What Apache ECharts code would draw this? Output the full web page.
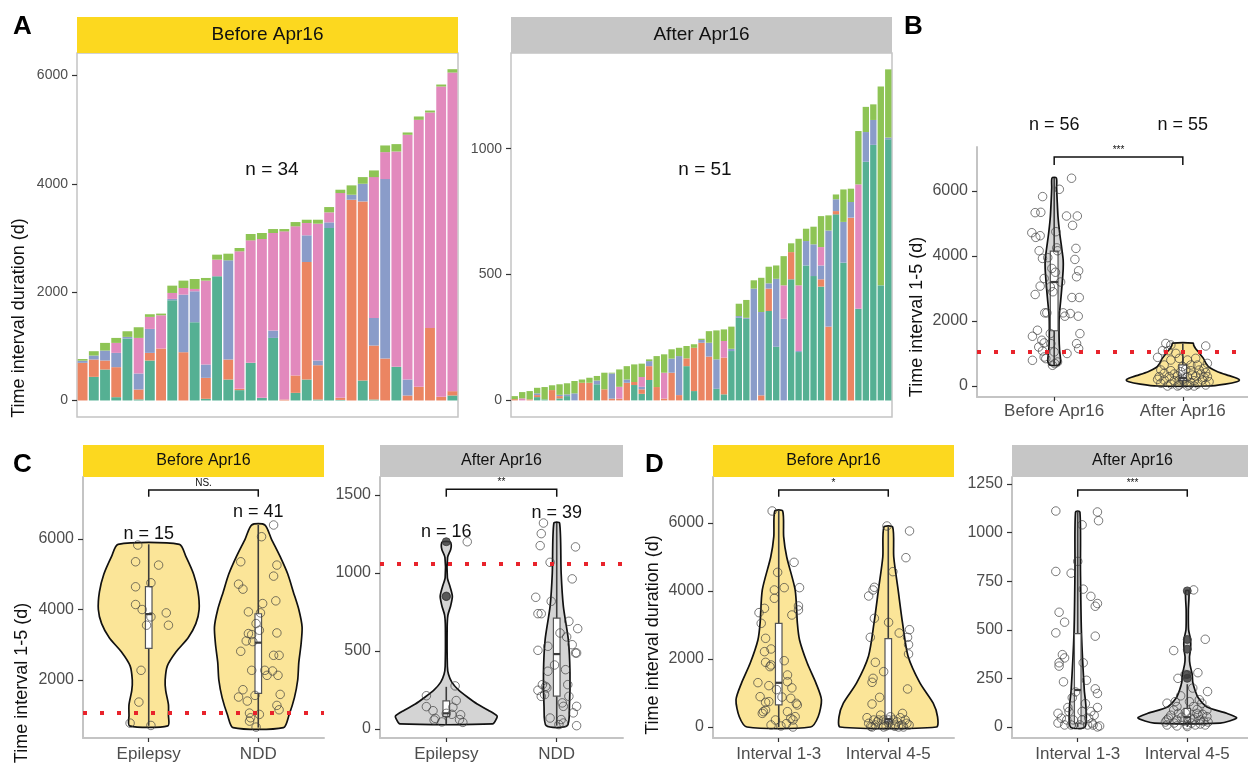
<!DOCTYPE html>
<html>
<head>
<meta charset="utf-8">
<script src="https://cdn.jsdelivr.net/npm/echarts@6/dist/echarts.min.js"></script>
<style>
  html, body { margin: 0; padding: 0; background: #fff; }
  #chart { width: 1248px; height: 763px; }
</style>
</head>
<body>
<div id="chart"></div>
<script>
// ---- Panel A: stacked interval durations per patient ----
const beforeTeal   = [0,436,572,61,1143,20,738,0,1850,0,1444,31,2293,387,191,695,49,1155,0,141,387,18,3184,10,0,369,18,0,621,0,0,0,0,92];
const beforeOrange = [695,320,166,554,0,183,141,959,0,891,0,387,0,369,24,0,0,0,18,320,2170,633,0,39,3706,3306,996,774,0,92,252,1340,68,80];
const beforeBlue   = [40,74,184,264,31,295,442,0,25,1063,572,246,0,1832,0,0,0,136,0,0,492,87,104,0,92,326,510,3313,0,295,0,0,0,0];
const beforePink   = [0,0,0,184,0,657,222,614,110,123,43,1549,307,0,2539,2261,2932,1801,3104,2754,227,2526,185,3780,0,0,2600,498,3976,4518,4929,3977,5728,5882];
const beforeGreen  = [30,80,141,92,104,197,49,31,135,136,184,49,92,122,61,117,111,73,43,79,61,73,98,62,173,123,123,123,136,43,62,36,37,62];

const afterTeal   = [0,0,0,13,4,0,8,17,0,0,0,64,0,0,0,0,61,26,81,0,0,0,0,136,37,0,0,46,24,196,328,324,0,0,355,213,0,481,192,536,494,452,0,739,547,0,364,948,1015,457,1037];
const afterOrange = [5,0,4,8,0,41,9,0,0,70,70,0,44,7,7,70,12,18,55,53,7,110,21,31,172,229,174,0,146,0,0,0,0,20,89,0,0,108,0,0,0,29,293,13,0,726,0,0,0,0,0];
const afterBlue   = [0,0,0,7,0,0,5,7,28,0,0,15,0,100,0,13,0,10,20,0,0,56,155,0,0,11,55,117,0,9,7,4,444,331,21,270,324,0,4,97,126,55,382,47,162,62,0,118,99,0,7];
const afterPink   = [0,8,0,0,0,0,0,0,0,0,0,0,0,0,47,0,0,39,0,0,103,0,0,0,0,0,0,0,66,0,0,0,0,0,0,0,133,0,261,0,0,73,0,0,0,0,494,0,0,0,0];
const afterGreen  = [12,25,33,22,49,19,42,44,49,13,20,18,66,3,69,53,70,53,7,123,73,37,33,49,14,5,46,115,46,88,49,71,33,136,66,53,116,35,185,49,70,123,60,19,129,53,212,100,62,790,271];

// ---- category names and tick labels ----
const catB = ['Before Apr16', 'After Apr16'];
const catC = ['Epilepsy', 'NDD'];
const catD = ['Interval 1-3', 'Interval 4-5'];
const ticksABefore = [0, 2000, 4000, 6000];
const ticksAAfter  = [0, 500, 1000];
const ticksB       = [0, 2000, 4000, 6000];
const ticksCBefore = [2000, 4000, 6000];
const ticksCAfter  = [0, 500, 1000, 1500];
const ticksDBefore = [0, 2000, 4000, 6000];
const ticksDAfter  = [0, 250, 500, 750, 1000, 1250];
const refLine = 1060;

// ---- violin profiles: [value, half width in category units] ----
const violinBBefore = [[640,0.03],[700,0.045],[790,0.05],[1100,0.042],[1500,0.038],[2130,0.039],[2600,0.05],[3150,0.062],[3600,0.07],[3875,0.07],[4200,0.06],[4700,0.043],[5200,0.03],[5725,0.023],[6100,0.019],[6400,0.017]];
const violinBAfter  = [[0,0.2],[60,0.33],[130,0.42],[185,0.44],[240,0.42],[320,0.36],[441,0.27],[560,0.21],[697,0.18],[850,0.16],[1005,0.13],[1150,0.1],[1250,0.085],[1320,0.08]];
const violinCBeforeEpi = [[700,0.175],[1000,0.18],[1300,0.18],[1700,0.155],[2000,0.15],[2400,0.17],[2800,0.25],[3200,0.36],[3600,0.43],[4000,0.46],[4500,0.45],[5000,0.41],[5500,0.34],[5850,0.28]];
const violinCBeforeNdd = [[650,0.23],[1000,0.28],[1500,0.33],[2000,0.36],[2500,0.37],[3000,0.39],[3500,0.4],[4000,0.37],[4500,0.32],[5000,0.27],[5500,0.2],[6000,0.12],[6400,0.06]];
const violinCAfterEpi  = [[32,0.42],[60,0.45],[83,0.46],[120,0.38],[160,0.28],[200,0.2],[250,0.11],[300,0.05],[350,0.02],[400,0.01],[650,0.008],[730,0.015],[790,0.04],[850,0.055],[910,0.035],[970,0.01],[1100,0.012],[1150,0.04],[1180,0.045],[1200,0.035]];
const violinCAfterNdd  = [[21,0.095],[145,0.115],[359,0.12],[573,0.105],[786,0.06],[1000,0.04],[1320,0.026]];
const violinDBefore13 = [[0,0.29],[300,0.36],[800,0.39],[1290,0.34],[1880,0.26],[2560,0.19],[3060,0.17],[4030,0.15],[5000,0.073],[5600,0.045],[6353,0.036]];
const violinDBefore45 = [[0,0.44],[300,0.45],[700,0.41],[1290,0.29],[2090,0.18],[3060,0.13],[4030,0.09],[5000,0.05],[5880,0.04]];
const violinDAfter13 = [[0,0.067],[103,0.075],[190,0.06],[483,0.034],[800,0.025],[1106,0.02]];
const violinDAfter45 = [[20,0.3],[46,0.45],[70,0.36],[103,0.18],[150,0.1],[190,0.07],[230,0.05],[270,0.045],[320,0.025],[360,0.02],[400,0.03],[450,0.03],[500,0.012],[600,0.01],[700,0.015]];

// ---- boxes: [lower whisker, q1, median, q3, upper whisker] ----
const boxBBefore = [640, 1700, 3200, 4150, 6400];
const boxBAfter  = [0, 175, 250, 650, 1310];
const boxCBeforeEpi = [700, 2900, 3870, 4650, 5850];
const boxCBeforeNdd = [650, 1620, 3060, 3880, 6400];
const boxCAfterEpi  = [32, 80, 100, 180, 270];
const boxCAfterNdd  = [21, 210, 480, 710, 1320];
const boxDBefore13 = [0, 650, 1300, 3050, 6353];
const boxDBefore45 = [0, 150, 230, 2600, 5880];
const boxDAfter13  = [0, 20, 190, 480, 1110];
const boxDAfter45  = [0, 25, 50, 95, 220];
const outCAfterEpi = [850, 1200];
const outDAfter45  = [250, 270, 400, 450, 700];

// ---- jittered points: [offset from category, value] ----
const ptsBBefore = [[0.135,6393],[0.04,6053],[-0.09,5828],[-0.148,5334],[-0.104,5344],[0.096,5231],[0.18,5231],[0.143,4943],[-0.174,4717],[-0.143,4573],[-0.109,4625],[0.013,4748],[0.169,4234],[-0.117,4162],[0.026,4162],[-0.091,3926],[0.161,3895],[0.19,3546],[-0.018,3618],[0.174,3361],[-0.078,3309],[-0.109,3073],[-0.148,2816],[0.138,2723],[0.195,2723],[-0.057,2251],[-0.073,2251],[0.07,2251],[0.125,2230],[0.083,2148],[0.187,2148],[-0.13,1716],[-0.169,1531],[0.2,1613],[-0.03,1613],[-0.096,1408],[-0.078,1326],[0.174,1305],[0.19,1151],[-0.026,1305],[-0.091,1079],[0,1048],[-0.078,893],[-0.169,791],[-0.065,843],[0.005,689],[-0.013,637],[0.026,740],[-0.05,3950],[0.01,3500],[-0.03,3050],[0.02,4250],[-0.01,2900],[0.05,3200],[-0.12,1200],[0.1,1000]];
const ptsBAfter = [[-0.132,1310],[-0.093,1262],[0.178,1231],[-0.158,1087],[-0.114,1087],[-0.054,1005],[-0.196,882],[0.191,697],[-0.145,646],[-0.028,851],[0.036,800],[0.062,646],[0.114,646],[0.165,544],[-0.171,492],[-0.093,472],[-0.016,441],[0.062,472],[0.127,492],[0.178,410],[-0.184,287],[-0.106,287],[-0.041,308],[0.036,287],[0.1,308],[0.165,267],[-0.145,185],[-0.067,164],[0.01,133],[0.088,164],[0.152,185],[0.204,133],[-0.171,82],[-0.093,62],[-0.028,31],[0.049,31],[0.114,62],[0.178,31],[-0.119,0],[-0.041,0],[0.036,0],[0.088,0],[-0.196,205],[-0.003,595],[0.075,338],[-0.067,369],[0.023,513],[0.14,369],[-0.093,800],[0.1,851],[-0.028,185],[0.062,103],[-0.145,390],[0.191,287],[-0.003,236]];
const ptsCBeforeEpi = [[-0.1,5829],[-0.12,5355],[0.09,5261],[-0.12,4645],[0.02,4758],[-0.12,4142],[-0.06,4000],[0.16,3905],[0.02,3791],[-0.02,3555],[0.18,3555],[-0.07,2275],[-0.09,1374],[-0.17,777],[0.02,711]];
const ptsCBeforeNdd = [[0.14,6398],[0.03,6066],[-0.16,5355],[0.17,5261],[0.14,4948],[-0.18,4720],[-0.14,4578],[0.16,4246],[0.04,4170],[-0.09,3934],[0.02,3905],[-0.02,3602],[-0.09,3318],[-0.06,3289],[0.01,3412],[0.17,3336],[-0.11,3109],[-0.05,3090],[-0.16,2815],[0.14,2701],[0.19,2701],[-0.06,2275],[0.06,2275],[0.13,2256],[0.08,2133],[0.18,2133],[-0.14,1725],[-0.18,1517],[-0.1,1403],[-0.03,1564],[0.2,1592],[0.17,1280],[0.19,1156],[-0.08,1062],[-0.07,929],[-0.08,834],[0.01,1024],[-0.02,664]];
const ptsCAfterEpi = [[-0.18,213],[-0.18,143],[0.08,276],[0.09,182],[-0.12,117],[-0.11,57],[0.06,139],[0.0,100],[0.05,94],[0.13,91],[0.12,60],[0.15,42],[-0.1,68],[0.19,1200],[0.0,850],[-0.04,45]];
const ptsCAfterNdd = [[-0.12,1320],[-0.14,1252],[-0.15,1175],[0.17,1167],[-0.06,1068],[0.14,962],[-0.19,844],[-0.05,818],[-0.17,739],[-0.14,739],[0.19,643],[0.11,690],[0.03,615],[0.14,540],[0.17,487],[0.18,487],[-0.17,504],[-0.08,530],[0.08,380],[-0.08,370],[-0.13,284],[-0.1,273],[-0.09,263],[0.1,284],[-0.17,248],[-0.14,209],[0.11,209],[0.05,167],[0.06,145],[0.18,145],[-0.06,70],[0.04,60],[0.06,38],[0.02,28],[0.15,103],[0.18,21],[-0.02,410],[0.09,590],[-0.11,220]];
const ptsDBefore13 = [[-0.06,6353],[0.14,4843],[-0.01,4549],[0.19,4098],[0.05,4098],[-0.04,4030],[-0.04,3785],[0.18,3560],[0.18,3441],[0.12,3294],[-0.13,3490],[-0.18,3363],[-0.16,3049],[-0.12,2608],[-0.13,2216],[-0.07,2294],[-0.12,1902],[-0.07,1824],[-0.08,1775],[0.08,1530],[0.08,1333],[-0.19,1304],[-0.09,1216],[-0.17,892],[-0.09,745],[-0.12,725],[0.11,843],[0.16,696],[0.17,647],[-0.12,500],[-0.14,451],[0.08,451],[0.15,304],[0.11,255],[0.13,206],[-0.07,59],[-0.03,206],[0.02,29],[0.13,0],[0.05,1950],[0.12,1150],[-0.02,1100],[0.03,880],[0.07,100],[-0.15,400]];
const ptsDBefore45 = [[-0.012,5912],[0.194,5765],[0.161,4980],[0.042,4569],[-0.179,3853],[-0.139,4029],[-0.127,4108],[-0.127,3196],[0.003,3078],[0.194,2862],[0.176,2637],[0.185,2422],[0.185,2147],[0.1,2764],[-0.164,2637],[-0.118,1902],[-0.042,1628],[-0.139,1431],[-0.148,1314],[-0.079,872],[0.176,1118],[-0.148,676],[-0.194,274],[-0.133,206],[-0.088,206],[-0.042,206],[0.003,206],[0.048,206],[0.109,274],[0.155,206],[-0.179,108],[-0.118,59],[-0.058,59],[0.003,108],[0.064,59],[0.124,59],[0.17,108],[-0.148,0],[-0.042,0],[0.094,0],[0.139,0],[-0.1,150],[0.02,300],[0.08,150],[-0.02,30],[0.13,400],[-0.16,20],[0.06,20],[0.19,60],[-0.07,350]];
const ptsDAfter13 = [[-0.2,1111],[0.18,1106],[0.19,1061],[0.04,1040],[0.0,852],[-0.2,800],[-0.06,791],[0.05,709],[0.12,672],[0.16,621],[0.18,635],[-0.17,590],[-0.12,539],[-0.2,484],[0.16,467],[-0.14,372],[-0.17,330],[-0.17,313],[-0.12,355],[0.05,330],[-0.13,232],[0.16,196],[0.18,172],[-0.18,70],[-0.08,79],[0.04,79],[0.12,79],[0.18,100],[-0.1,36],[-0.04,36],[0.04,36],[0.09,10],[0.14,10],[0.18,0],[-0.06,10],[0.02,10],[-0.15,45],[0.1,45],[-0.12,10],[0.15,60],[-0.02,180],[0.08,240],[-0.05,150],[0.13,20],[0.2,5],[-0.18,20],[0.07,120],[-0.09,100]];
const ptsDAfter45 = [[0.058,705],[0.164,451],[-0.124,393],[-0.085,250],[0.097,279],[0.185,182],[-0.185,122],[-0.094,105],[0.058,105],[0.133,122],[0.179,87],[-0.124,87],[-0.018,73],[0.088,70],[-0.185,36],[-0.094,36],[0.027,45],[0.118,36],[0.179,53],[-0.185,10],[-0.094,5],[-0.003,10],[0.073,10],[0.164,10],[-0.15,60],[-0.05,50],[0.04,20],[0.1,60],[0.15,30],[-0.12,20],[-0.03,30],[0.06,40],[0.12,15],[-0.17,45],[0.02,130],[-0.06,160],[0.11,140],[0.14,65],[-0.08,70],[0.19,25],[-0.2,25],[0.0,2],[0.09,90],[-0.11,130],[0.05,200],[-0.02,270]];

// ---- significance brackets: [from, to, top, tick end] and labels ----
const bracketB = [1, 2, 7046, 6800];        const starsB = '***';
const bracketCBefore = [1, 2, 7390, 7200];  const starsCBefore = 'NS.';
const bracketCAfter = [1, 2, 1536, 1489];   const starsCAfter = '**';
const bracketDBefore = [1, 2, 6970, 6773];  const starsDBefore = '*';
const bracketDAfter = [1, 2, 1219, 1185];   const starsDAfter = '***';

// ---- sample size labels: [category, value, text] ----
const nLabelsB = [[1, 8030, 'n = 56'], [2, 8030, 'n = 55']];
const nLabelsCBefore = [[1, 6142, 'n = 15'], [2, 6766, 'n = 41']];
const nLabelsCAfter = [[1, 1263, 'n = 16'], [2, 1385, 'n = 39']];

const FONT = '"Liberation Sans", Arial, Helvetica, sans-serif';
const COLORS = ['#55b093', '#eb8562', '#8a9cc9', '#e289bd', '#8ec455'];
const YELLOW = '#fcd81f';
const GREY = '#c6c6c6';
const VIOLIN_YELLOW = '#fbe598';
const VIOLIN_GREY = '#d4d4d4';

const chart = echarts.init(document.getElementById('chart'), null, { renderer: 'canvas' });

const grids = [
  { left: 77, top: 53, width: 381, height: 364 },   // A before
  { left: 511, top: 53, width: 381, height: 364 },  // A after
  { left: 977, top: 147, width: 283, height: 250 }, // B
  { left: 83, top: 477, width: 241, height: 261 },  // C before
  { left: 380, top: 477, width: 243, height: 261 }, // C after
  { left: 713, top: 477, width: 241, height: 261 }, // D before
  { left: 1012, top: 477, width: 241, height: 261 } // D after
].map((g, i) => Object.assign({
  containLabel: false,
  outerBoundsMode: 'none',
  show: i < 2,
  backgroundColor: '#fff',
  borderColor: '#c4c4c4',
  borderWidth: i < 2 ? 1.5 : 0
}, g));

function yAxis(g, min, max, ticks, fontSize, showLine) {
  return {
    type: 'value', gridIndex: g, min: min, max: max,
    axisLine: { show: showLine, onZero: false, lineStyle: { color: '#c4c4c4', width: 2 } },
    axisTick: { show: true, customValues: ticks, length: 5, lineStyle: { color: '#333', width: 1.2 } },
    axisLabel: {
      show: true, customValues: ticks, margin: 9, color: '#4d4d4d', fontSize: fontSize, fontFamily: FONT,
      formatter: v => String(v)
    },
    splitLine: { show: false }
  };
}

function xCat(g, names, margin) {
  return {
    type: 'value', gridIndex: g, min: 0.4, max: 2.6,
    axisLine: { show: true, onZero: false, lineStyle: { color: '#c4c4c4', width: 2 } },
    axisTick: { show: true, customValues: [1, 2], length: 4, lineStyle: { color: '#333', width: 1.2 } },
    axisLabel: {
      show: true, customValues: [1, 2], margin: margin, color: '#4d4d4d', fontSize: 17, fontFamily: FONT,
      formatter: v => names[Math.round(v) - 1]
    },
    splitLine: { show: false }
  };
}

function xBars(g, n) {
  return {
    type: 'category', gridIndex: g, data: Array.from({ length: n }, (_, i) => i + 1),
    axisLine: { show: false }, axisTick: { show: false }, axisLabel: { show: false }, splitLine: { show: false }
  };
}

function barSeries(g, arrays, gap) {
  return arrays.map((arr, k) => ({
    type: 'bar', xAxisIndex: g, yAxisIndex: g, stack: 'a' + g, data: arr,
    barCategoryGap: gap, itemStyle: { color: COLORS[k] }, silent: true, animation: false
  }));
}

function violinSeries(g, center, profile, fill) {
  return {
    type: 'custom', xAxisIndex: g, yAxisIndex: g, z: 2, silent: true, animation: false,
    data: [[center, profile[0][0]]],
    renderItem: function (params, api) {
      const right = profile.map(p => api.coord([center + p[1], p[0]]));
      const left = profile.map(p => api.coord([center - p[1], p[0]])).reverse();
      return {
        type: 'polygon',
        shape: { points: right.concat(left), smooth: 0.25 },
        style: { fill: fill, stroke: '#111', lineWidth: 1.7 }
      };
    }
  };
}

function boxSeries(g, center, box) {
  return {
    type: 'custom', xAxisIndex: g, yAxisIndex: g, z: 3, silent: true, animation: false,
    data: [[center].concat(box)],
    renderItem: function (params, api) {
      const c = api.value(0);
      const lo = api.coord([c, api.value(1)]);
      const q1 = api.coord([c, api.value(2)]);
      const md = api.coord([c, api.value(3)]);
      const q3 = api.coord([c, api.value(4)]);
      const hi = api.coord([c, api.value(5)]);
      const hw = api.size([0.03, 0])[0];
      return {
        type: 'group', children: [
          { type: 'line', shape: { x1: lo[0], y1: lo[1], x2: hi[0], y2: hi[1] }, style: { stroke: '#3c3c3c', lineWidth: 1.6 } },
          { type: 'rect', shape: { x: q3[0] - hw, y: q3[1], width: 2 * hw, height: q1[1] - q3[1] }, style: { fill: '#fff', stroke: '#555', lineWidth: 1.2 } },
          { type: 'line', shape: { x1: md[0] - hw, y1: md[1], x2: md[0] + hw, y2: md[1] }, style: { stroke: '#3c3c3c', lineWidth: 2.2 } }
        ]
      };
    }
  };
}

function pointSeries(g, center, pts, withRef) {
  const s = {
    type: 'scatter', xAxisIndex: g, yAxisIndex: g, z: 4, silent: true, animation: false,
    data: pts.map(p => [center + p[0], p[1]]),
    symbol: 'circle', symbolSize: 8.5,
    itemStyle: { color: 'rgba(0,0,0,0)', borderColor: 'rgba(60,60,60,0.85)', borderWidth: 1 }
  };
  if (withRef) {
    s.markLine = {
      silent: true, symbol: 'none', animation: false,
      label: { show: false },
      lineStyle: { color: '#e8232b', width: 4, type: [4, 13], cap: 'butt' },
      data: [{ yAxis: refLine }]
    };
  }
  return s;
}

function outlierSeries(g, center, vals) {
  return {
    type: 'scatter', xAxisIndex: g, yAxisIndex: g, z: 5, silent: true, animation: false,
    data: vals.map(v => [center, v]), symbol: 'circle', symbolSize: 8,
    itemStyle: { color: '#3a3a3a', borderColor: '#3a3a3a', borderWidth: 1 }
  };
}

function bracketSeries(g, br, label, fontSize) {
  return {
    type: 'custom', xAxisIndex: g, yAxisIndex: g, z: 6, silent: true, animation: false, clip: false,
    data: [br],
    renderItem: function (params, api) {
      const a = api.coord([api.value(0), api.value(3)]);
      const b = api.coord([api.value(0), api.value(2)]);
      const c = api.coord([api.value(1), api.value(2)]);
      const d = api.coord([api.value(1), api.value(3)]);
      return {
        type: 'group', children: [
          { type: 'polyline', shape: { points: [a, b, c, d] }, style: { stroke: '#111', lineWidth: 1.5, fill: null } },
          { type: 'text', x: (b[0] + c[0]) / 2, y: b[1] - 2,
            style: { text: label, fill: '#111', font: fontSize + 'px ' + FONT, textAlign: 'center', textVerticalAlign: 'bottom' } }
        ]
      };
    }
  };
}

function textSeries(g, items, fontSize) {
  return {
    type: 'custom', xAxisIndex: g, yAxisIndex: g, z: 6, silent: true, animation: false, clip: false,
    data: items.map(d => [d[0], d[1]]),
    renderItem: function (params, api) {
      const p = api.coord([api.value(0), api.value(1)]);
      return {
        type: 'text', x: p[0], y: p[1],
        style: { text: items[params.dataIndex][2], fill: '#111', font: fontSize + 'px ' + FONT, textAlign: 'center', textVerticalAlign: 'middle' }
      };
    }
  };
}

function header(x, y, w, h, fill, label, fontSize) {
  return [
    { type: 'rect', shape: { x: x, y: y, width: w, height: h }, style: { fill: fill }, silent: true },
    { type: 'text', x: x + w / 2, y: y + h / 2,
      style: { text: label, fill: '#111', font: fontSize + 'px ' + FONT, textAlign: 'center', textVerticalAlign: 'middle' }, silent: true }
  ];
}

function letter(x, y, t) {
  return { type: 'text', x: x, y: y, style: { text: t, fill: '#000', font: 'bold 26px ' + FONT, textVerticalAlign: 'top' }, silent: true };
}

function axisTitle(x, y, t) {
  return { type: 'text', x: x, y: y, rotation: Math.PI / 2,
    style: { text: t, fill: '#111', font: '18px ' + FONT, textAlign: 'center', textVerticalAlign: 'middle' }, silent: true };
}

const option = {
  backgroundColor: '#fff',
  animation: false,
  grid: grids,
  xAxis: [
    xBars(0, 34), xBars(1, 51),
    xCat(2, catB, 6), xCat(3, catC, 8), xCat(4, catC, 8), xCat(5, catD, 8), xCat(6, catD, 8)
  ],
  yAxis: [
    yAxis(0, -305, 6415, ticksABefore, 14, false),
    yAxis(1, -66, 1380, ticksAAfter, 14, false),
    yAxis(2, -338, 7354, ticksB, 16, true),
    yAxis(3, 355, 7760, ticksCBefore, 16, true),
    yAxis(4, -58, 1615, ticksCAfter, 16, true),
    yAxis(5, -324, 7353, ticksDBefore, 16, true),
    yAxis(6, -57, 1286, ticksDAfter, 16, true)
  ],
  series: [].concat(
    barSeries(0, [beforeTeal, beforeOrange, beforeBlue, beforePink, beforeGreen], '12%'),
    barSeries(1, [afterTeal, afterOrange, afterBlue, afterPink, afterGreen], '15%'),
    // B
    violinSeries(2, 1, violinBBefore, VIOLIN_GREY),
    violinSeries(2, 2, violinBAfter, VIOLIN_YELLOW),
    boxSeries(2, 1, boxBBefore), boxSeries(2, 2, boxBAfter),
    pointSeries(2, 1, ptsBBefore, true), pointSeries(2, 2, ptsBAfter, false),
    bracketSeries(2, bracketB, starsB, 10),
    textSeries(2, nLabelsB, 18),
    // C before
    violinSeries(3, 1, violinCBeforeEpi, VIOLIN_YELLOW),
    violinSeries(3, 2, violinCBeforeNdd, VIOLIN_YELLOW),
    boxSeries(3, 1, boxCBeforeEpi), boxSeries(3, 2, boxCBeforeNdd),
    pointSeries(3, 1, ptsCBeforeEpi, true), pointSeries(3, 2, ptsCBeforeNdd, false),
    bracketSeries(3, bracketCBefore, starsCBefore, 10),
    textSeries(3, nLabelsCBefore, 18),
    // C after
    violinSeries(4, 1, violinCAfterEpi, VIOLIN_GREY),
    violinSeries(4, 2, violinCAfterNdd, VIOLIN_GREY),
    boxSeries(4, 1, boxCAfterEpi), boxSeries(4, 2, boxCAfterNdd),
    pointSeries(4, 1, ptsCAfterEpi, true), pointSeries(4, 2, ptsCAfterNdd, false),
    outlierSeries(4, 1, outCAfterEpi),
    bracketSeries(4, bracketCAfter, starsCAfter, 10),
    textSeries(4, nLabelsCAfter, 18),
    // D before
    violinSeries(5, 1, violinDBefore13, VIOLIN_YELLOW),
    violinSeries(5, 2, violinDBefore45, VIOLIN_YELLOW),
    boxSeries(5, 1, boxDBefore13), boxSeries(5, 2, boxDBefore45),
    pointSeries(5, 1, ptsDBefore13, false), pointSeries(5, 2, ptsDBefore45, false),
    bracketSeries(5, bracketDBefore, starsDBefore, 10),
    // D after
    violinSeries(6, 1, violinDAfter13, VIOLIN_GREY),
    violinSeries(6, 2, violinDAfter45, VIOLIN_GREY),
    boxSeries(6, 1, boxDAfter13), boxSeries(6, 2, boxDAfter45),
    pointSeries(6, 1, ptsDAfter13, false), pointSeries(6, 2, ptsDAfter45, false),
    outlierSeries(6, 2, outDAfter45),
    bracketSeries(6, bracketDAfter, starsDAfter, 10)
  ),
  graphic: [].concat(
    header(77, 17, 381, 36, YELLOW, 'Before Apr16', 19),
    header(511, 17, 381, 36, GREY, 'After Apr16', 19),
    header(83, 445, 241, 32, YELLOW, 'Before Apr16', 16),
    header(380, 445, 243, 32, GREY, 'After Apr16', 16),
    header(713, 445, 241, 32, YELLOW, 'Before Apr16', 16),
    header(1012, 445, 241, 32, GREY, 'After Apr16', 16),
    [
      { type: 'text', x: 272, y: 170, style: { text: 'n = 34', fill: '#111', font: '19px ' + FONT, textAlign: 'center', textVerticalAlign: 'middle' }, silent: true },
      { type: 'text', x: 705, y: 170, style: { text: 'n = 51', fill: '#111', font: '19px ' + FONT, textAlign: 'center', textVerticalAlign: 'middle' }, silent: true },
      letter(13, 14, 'A'), letter(904, 14, 'B'), letter(13, 452, 'C'), letter(645, 452, 'D'),
      axisTitle(19, 318, 'Time interval duration (d)'),
      axisTitle(917, 317, 'Time interval 1-5 (d)'),
      axisTitle(22, 683, 'Time interval 1-5 (d)'),
      axisTitle(653, 635, 'Time interval duration (d)')
    ]
  )
};

chart.setOption(option);
window.addEventListener('resize', () => chart.resize());
</script>
</body>
</html>
